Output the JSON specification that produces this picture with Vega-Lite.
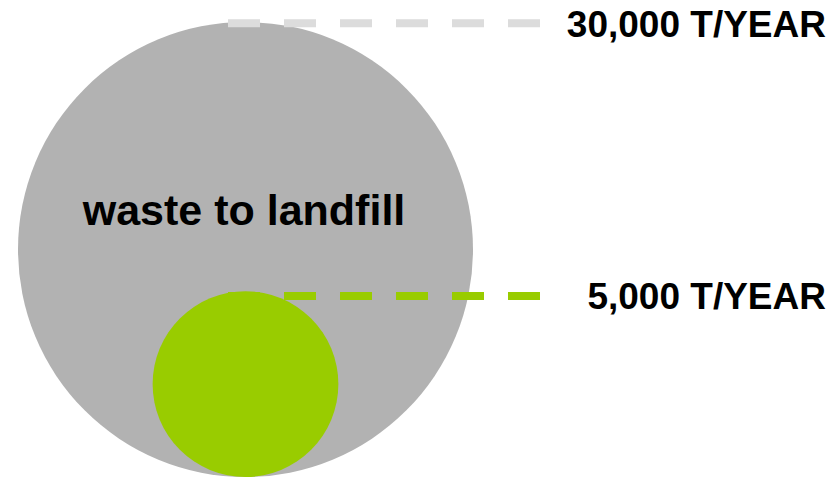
{
  "$schema": "https://vega.github.io/schema/vega-lite/v6.json",
  "width": 836,
  "height": 477,
  "padding": 0,
  "autosize": {"type": "fit", "contains": "padding"},
  "background": "white",
  "config": {"view": {"stroke": null}},
  "data": {
    "values": [
      {"stream": "landfill", "tonnes": 30000, "label": "30,000 T/YEAR", "title": "waste to landfill"},
      {"stream": "reduced", "tonnes": 5000, "label": "5,000 T/YEAR", "title": ""}
    ]
  },
  "resolve": {"scale": {"y": "independent", "color": "independent"}},
  "layer": [
    {
      "mark": {"type": "point", "shape": "circle", "filled": true, "opacity": 1, "strokeWidth": 0},
      "encoding": {
        "x": {"datum": 245.5, "type": "quantitative", "scale": {"domain": [0, 836]}, "axis": null},
        "y": {"field": "tonnes", "type": "quantitative", "scale": {"type": "sqrt", "domain": [0, 30000], "range": [477, 249.5]}, "axis": null},
        "size": {"field": "tonnes", "type": "quantitative", "scale": {"type": "linear", "zero": true, "domain": [0, 30000], "range": [0, 207025]}, "legend": null},
        "color": {"field": "stream", "type": "nominal", "scale": {"domain": ["landfill", "reduced"], "range": ["#b2b2b2", "#99cc00"]}, "legend": null}
      }
    },
    {
      "mark": {"type": "rule", "strokeWidth": 8, "strokeDash": [32, 24], "strokeCap": "butt"},
      "encoding": {
        "x": {"datum": 228, "type": "quantitative", "scale": {"domain": [0, 836]}, "axis": null},
        "x2": {"datum": 541},
        "y": {"field": "tonnes", "type": "quantitative", "scale": {"type": "sqrt", "domain": [0, 30000], "range": [484, 23.3]}, "axis": null},
        "color": {"field": "stream", "type": "nominal", "scale": {"domain": ["landfill", "reduced"], "range": ["#dcdcdc", "#99cc00"]}, "legend": null}
      }
    },
    {
      "mark": {"type": "text", "align": "right", "baseline": "alphabetic", "font": "Liberation Sans", "fontWeight": "bold", "fontSize": 37, "color": "#000000", "dy": 13.5},
      "encoding": {
        "x": {"datum": 826, "type": "quantitative", "scale": {"domain": [0, 836]}, "axis": null},
        "y": {"field": "tonnes", "type": "quantitative", "scale": {"type": "sqrt", "domain": [0, 30000], "range": [484, 23.3]}, "axis": null},
        "text": {"field": "label"}
      }
    },
    {
      "transform": [{"filter": "datum.title != ''"}],
      "mark": {"type": "text", "align": "center", "baseline": "alphabetic", "font": "Liberation Sans", "fontWeight": "bold", "fontSize": 43, "color": "#000000", "dy": -24.5},
      "encoding": {
        "x": {"datum": 244, "type": "quantitative", "scale": {"domain": [0, 836]}, "axis": null},
        "y": {"field": "tonnes", "type": "quantitative", "scale": {"type": "sqrt", "domain": [0, 30000], "range": [477, 249.5]}, "axis": null},
        "text": {"field": "title"}
      }
    }
  ]
}
